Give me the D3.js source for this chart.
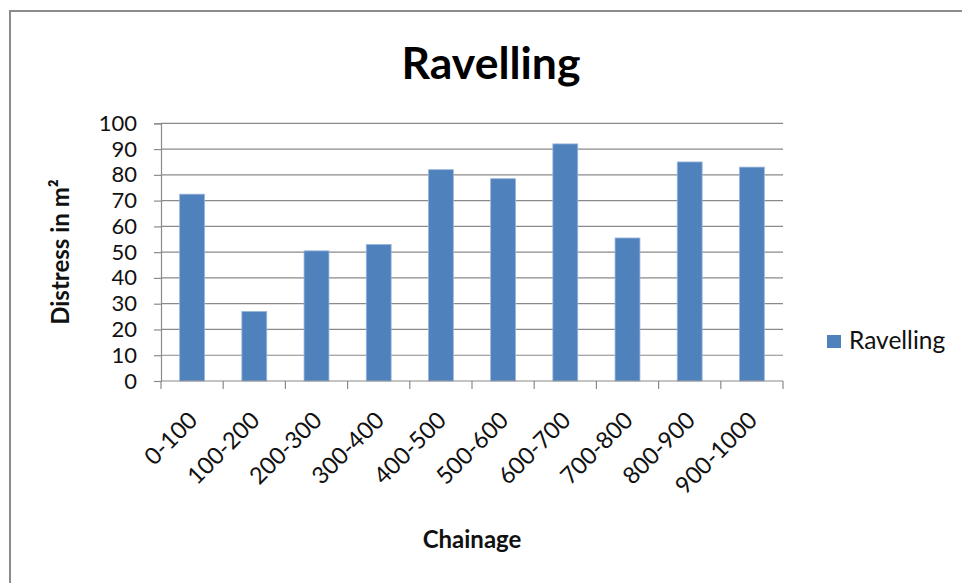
<!DOCTYPE html>
<html>
<head>
<meta charset="utf-8">
<script src="https://cdn.jsdelivr.net/npm/d3@7"></script>
<style>
  html, body { margin: 0; padding: 0; background: #fff; }
  svg { display: block; font-family: Lato, "Open Sans", sans-serif; }
</style>
</head>
<body>
<svg id="chart" width="962" height="583"></svg>
<script>
// Chainage segments (m) and ravelling distress area (m²)
const categories = ["0-100", "100-200", "200-300", "300-400", "400-500",
                    "500-600", "600-700", "700-800", "800-900", "900-1000"];
const ravelling = [72.5, 27, 50.5, 53, 82, 78.5, 92, 55.5, 85, 83];
const yTicks = [0, 10, 20, 30, 40, 50, 60, 70, 80, 90, 100];
const seriesName = "Ravelling";

const svg = d3.select("#chart");
const plot = { left: 161, right: 783, top: 123.3, bottom: 381 };
const gridColor = "#8a8a8a";
const barColor = "#4f81bd";
const textColor = "#111";

// Chart frame
svg.append("rect")
  .attr("x", 10).attr("y", 11)
  .attr("width", 1000).attr("height", 620)
  .attr("fill", "none").attr("stroke", "#8c8c8c").attr("stroke-width", 2);

const x = d3.scaleBand()
  .domain(categories)
  .range([plot.left, plot.right])
  .paddingInner(0.6)
  .paddingOuter(0.3);

const y = d3.scaleLinear().domain([0, 100]).range([plot.bottom, plot.top]);

// Horizontal gridlines
svg.append("g")
  .selectAll("line")
  .data(yTicks.filter(d => d > 0))
  .join("line")
  .attr("x1", plot.left).attr("x2", plot.right)
  .attr("y1", d => y(d)).attr("y2", d => y(d))
  .attr("stroke", gridColor).attr("stroke-width", 1.2);

// Bars
svg.append("g")
  .selectAll("rect")
  .data(categories.map((c, i) => ({ c, v: ravelling[i] })))
  .join("rect")
  .attr("x", d => x(d.c))
  .attr("width", x.bandwidth())
  .attr("y", d => y(d.v))
  .attr("height", d => y(0) - y(d.v))
  .attr("fill", barColor)
  .attr("stroke", "#9ab6db").attr("stroke-width", 0.8);

// Y axis
const yAxis = svg.append("g")
  .attr("transform", `translate(${plot.left},0)`)
  .call(d3.axisLeft(y).tickValues(yTicks).tickSize(7).tickPadding(17));
yAxis.select(".domain").attr("stroke", gridColor).attr("stroke-width", 1.2);
yAxis.selectAll(".tick line").attr("stroke", gridColor).attr("stroke-width", 1.2);
yAxis.selectAll(".tick text")
  .attr("font-size", 22).attr("fill", textColor)
  .attr("font-family", "Lato, sans-serif");

// X axis: baseline and ticks on the category boundaries
const boundaries = d3.range(categories.length + 1)
  .map(i => plot.left + i * (plot.right - plot.left) / categories.length);
const xAxis = svg.append("g");
xAxis.append("line")
  .attr("x1", plot.left).attr("x2", plot.right)
  .attr("y1", plot.bottom).attr("y2", plot.bottom)
  .attr("stroke", gridColor).attr("stroke-width", 1.2);
xAxis.selectAll("line.tick")
  .data(boundaries)
  .join("line")
  .attr("class", "tick")
  .attr("x1", d => d).attr("x2", d => d)
  .attr("y1", plot.bottom).attr("y2", plot.bottom + 8)
  .attr("stroke", gridColor).attr("stroke-width", 1.2);

xAxis.selectAll("text")
  .data(categories)
  .join("text")
  .attr("transform", d => `translate(${x(d) + x.bandwidth() / 2 + 1},416) rotate(-45)`)
  .attr("text-anchor", "end")
  .attr("dy", "0.35em")
  .attr("font-size", 23.5)
  .attr("fill", textColor)
  .text(d => d);

// Title
svg.append("text")
  .attr("x", 491).attr("y", 79)
  .attr("text-anchor", "middle")
  .attr("font-size", 44.5).attr("font-weight", "bold")
  .attr("fill", "#000")
  .text("Ravelling");

// Axis titles
svg.append("text")
  .attr("transform", `translate(69,252) rotate(-90)`)
  .attr("text-anchor", "middle")
  .attr("font-size", 24).attr("font-weight", "bold")
  .attr("fill", textColor)
  .text("Distress in m²");

svg.append("text")
  .attr("x", (plot.left + plot.right) / 2).attr("y", 548)
  .attr("text-anchor", "middle")
  .attr("font-size", 24).attr("font-weight", "bold")
  .attr("fill", textColor)
  .text("Chainage");

// Legend
const legend = svg.append("g").attr("transform", "translate(827,335)");
legend.append("rect")
  .attr("width", 14).attr("height", 13)
  .attr("fill", barColor);
legend.append("text")
  .attr("x", 22).attr("y", 14)
  .attr("font-size", 24.5)
  .attr("fill", textColor)
  .text(seriesName);
</script>
</body>
</html>
